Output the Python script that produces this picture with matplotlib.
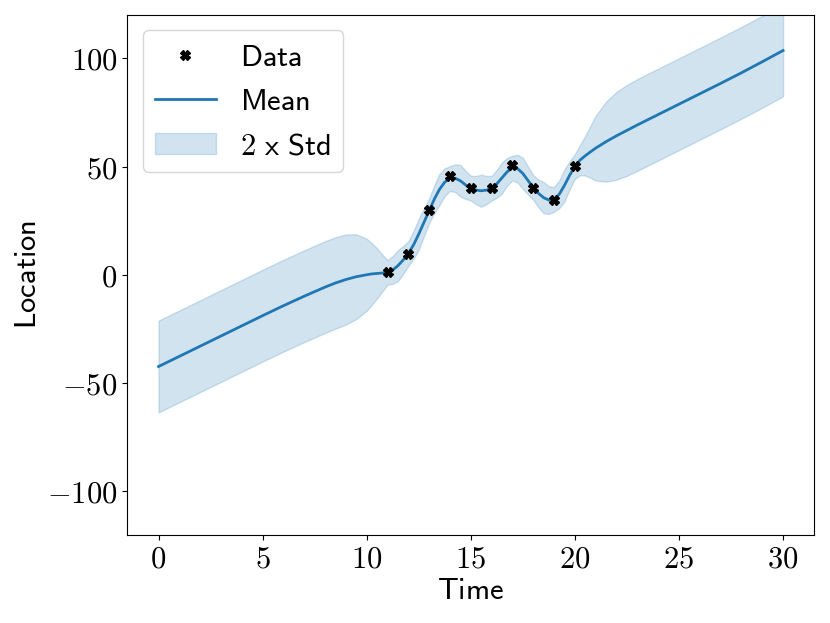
import matplotlib
matplotlib.use("Agg")
import matplotlib.pyplot as plt
import numpy as np

plt.rcParams['mathtext.fontset'] = 'cm'

# Observed data
data_time = [11, 12, 13, 14, 15, 16, 17, 18, 19, 20]
data_loc = [1.1, 9.8, 29.9, 45.4, 40.0, 40.0, 50.8, 40.0, 34.6, 50.2]

# Predictive mean and 2 x std
pred_time = [0, 1, 2, 3, 4, 5, 6, 7, 7.5, 8, 8.5, 9, 9.5, 10,
             10.25, 10.5, 10.75, 11, 11.25, 11.5, 11.75, 12, 12.25, 12.5, 12.75,
             13, 13.25, 13.5, 13.75, 14, 14.25, 14.5, 14.75, 15, 15.25, 15.5, 15.75,
             16, 16.25, 16.5, 16.75, 17, 17.25, 17.5, 17.75, 18, 18.25, 18.5, 18.75,
             19, 19.25, 19.5, 19.75, 20, 20.25, 20.5, 20.75, 21, 21.5, 22, 22.5,
             23, 24, 25, 26, 27, 28, 29, 30]
pred_mean = [-42.4, -37.7, -33.0, -28.3, -23.6, -18.9, -14.3, -9.9, -7.8, -5.7, -3.8, -2.2, -0.9, 0.0,
             0.4, 0.6, 0.8, 1.1, 2.2, 4.2, 6.8, 9.8, 13.8, 18.8, 24.2,
             29.6, 35.0, 39.5, 42.8, 44.5, 44.6, 43.4, 41.5, 40.0, 39.1, 38.8, 39.1,
             40.0, 42.0, 44.8, 47.6, 49.3, 49.0, 46.8, 43.5, 40.3, 37.6, 35.6, 34.5,
             34.8, 37.2, 41.3, 46.0, 50.0, 53.0, 55.0, 56.8, 58.5, 61.5, 64.2, 66.7,
             69.2, 74.0, 78.8, 83.6, 88.4, 93.3, 98.4, 103.6]
pred_2std = [21.2, 21.2, 21.2, 21.2, 21.2, 21.2, 21.2, 21.2, 21.2, 21.2, 21.1, 20.8, 19.6, 16.6,
             14.2, 11.5, 8.5, 5.7, 6.4, 7.2, 6.4, 5.7, 6.4, 7.2, 6.4,
             5.7, 6.4, 7.2, 6.4, 5.7, 6.4, 7.3, 6.5, 5.7, 6.5, 7.4, 6.5,
             5.7, 6.4, 7.2, 6.4, 5.7, 6.4, 7.2, 6.4, 5.7, 6.4, 7.2, 6.4,
             5.7, 6.4, 7.4, 6.5, 5.7, 7.0, 9.2, 12.0, 15.0, 18.5, 20.3, 21.0,
             21.2, 21.2, 21.2, 21.2, 21.2, 21.2, 21.2, 21.2]

x_ticks = [0, 5, 10, 15, 20, 25, 30]
y_ticks = [-100, -50, 0, 50, 100]

t = np.array(pred_time)
m = np.array(pred_mean)
s = np.array(pred_2std)

fig = plt.figure(figsize=(8.3, 6.23), dpi=100)
ax = fig.add_axes([127.3 / 830, 1 - 534.5 / 623, (814.3 - 127.3) / 830, (534.5 - 15) / 623])

ax.plot(data_time, data_loc, linestyle='none', marker='X', color='black', ms=6.5,
        label=r'$\mathsf{Data}$', zorder=3)
ax.plot(t, m, color='C0', lw=2, label=r'$\mathsf{Mean}$', zorder=2)
ax.fill_between(t, m - s, m + s, color='C0', alpha=0.2, label=r'$\mathsf{2\ x\ Std}$', zorder=1)

ax.set_xlim(-1.5, 31.5)
ax.set_ylim(-120, 120)
ax.set_xticks(x_ticks)
ax.set_xticklabels([r'$%d$' % v for v in x_ticks])
ax.set_yticks(y_ticks)
ax.set_yticklabels([r'$%d$' % v for v in y_ticks])
ax.tick_params(labelsize=22)
ax.set_xlabel(r'$\mathsf{Time}$', fontsize=22, labelpad=2)
ax.set_ylabel(r'$\mathsf{Location}$', fontsize=22, labelpad=4)

ax.legend(loc='upper left', fontsize=22)

fig.savefig('out.png', dpi=100)
